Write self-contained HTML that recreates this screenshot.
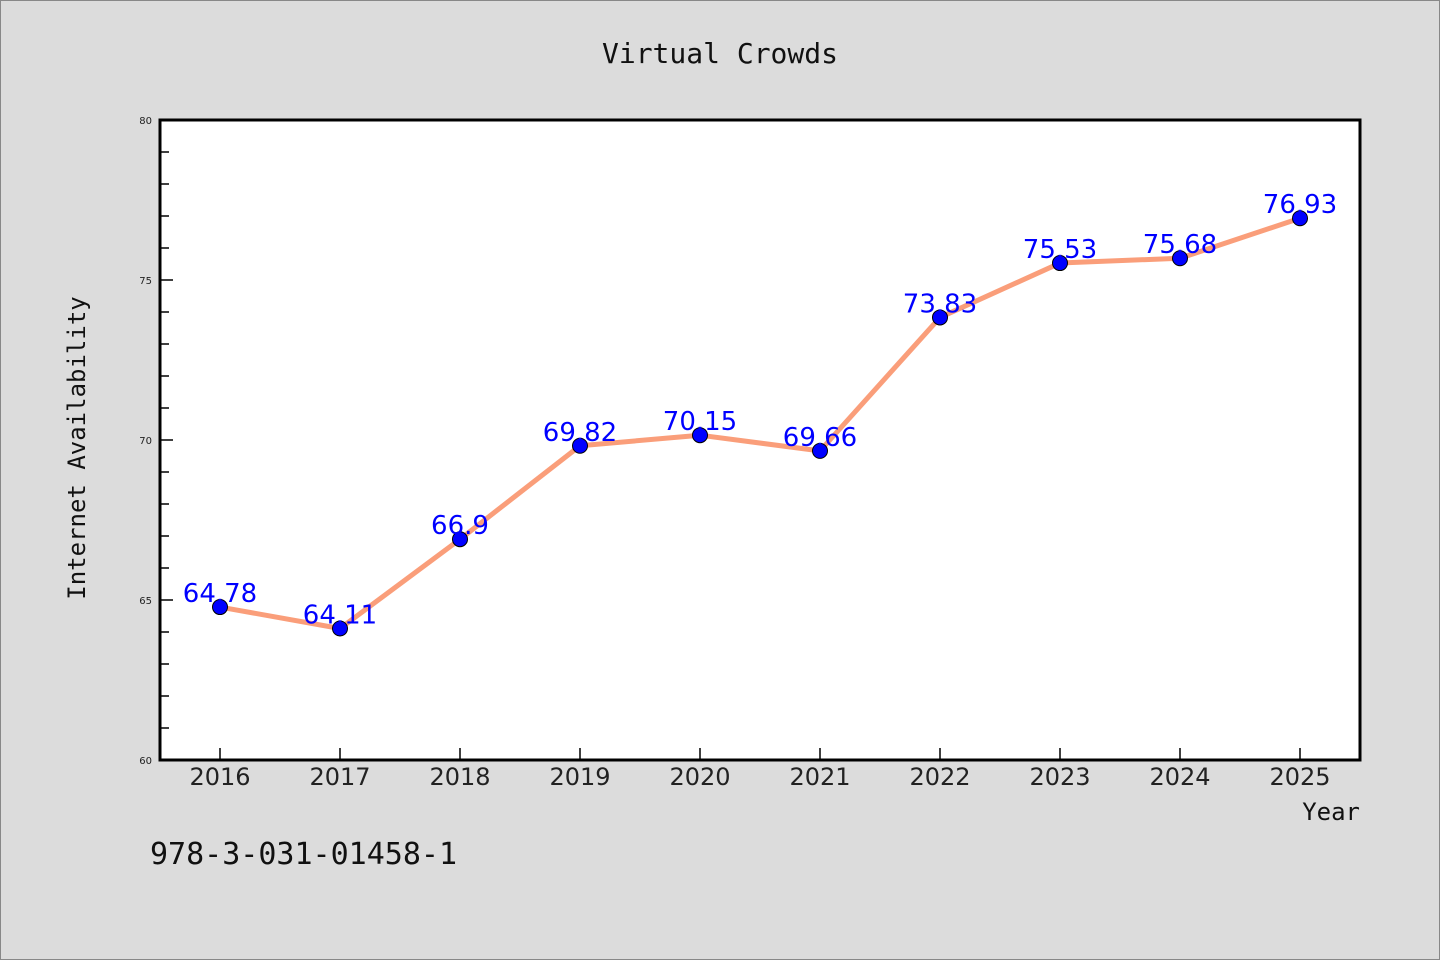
<!DOCTYPE html>
<html><head><meta charset="utf-8"><style>
html,body{margin:0;padding:0;background:#dcdcdc;}
svg{display:block;}
</style></head><body>
<svg width="1440" height="960" xmlns="http://www.w3.org/2000/svg">
<rect x="0.5" y="0.5" width="1439" height="959" fill="#dcdcdc" stroke="#888"/>
<text x="720" y="63" text-anchor="middle" font-family="'DejaVu Sans Mono','Liberation Mono',monospace" font-size="28" fill="#111">Virtual Crowds</text>
<rect x="160" y="120" width="1200" height="640" fill="#fff" stroke="#000" stroke-width="3"/>
<g id="yaxis"></g>
<g id="xaxis"></g>
<g id="series"></g>
<text transform="translate(85,448) rotate(-90)" text-anchor="middle" font-family="'DejaVu Sans Mono','Liberation Mono',monospace" font-size="24" fill="#111">Internet Availability</text>
<text x="1360" y="820" text-anchor="end" font-family="'DejaVu Sans Mono','Liberation Mono',monospace" font-size="24" fill="#111">Year</text>
<text x="150" y="864" font-family="'DejaVu Sans Mono','Liberation Mono',monospace" font-size="30" fill="#111">978-3-031-01458-1</text>
</svg>
<script>
const categories = ["2016","2017","2018","2019","2020","2021","2022","2023","2024","2025"];
const values = [64.78,64.11,66.9,69.82,70.15,69.66,73.83,75.53,75.68,76.93];
const valueLabels = ["64.78","64.11","66.9","69.82","70.15","69.66","73.83","75.53","75.68","76.93"];
const yTicks = [60,65,70,75,80];
const yMin = 60, yMax = 80;
const NS = "http://www.w3.org/2000/svg";
function xs(i){ return 160 + 1200*(i+0.5)/categories.length; }
function ys(v){ return 760 - 640*(v-yMin)/(yMax-yMin); }
function mk(tag, attrs, parent){ const e=document.createElementNS(NS,tag); for(const k in attrs) e.setAttribute(k,attrs[k]); parent.appendChild(e); return e; }
const ya=document.getElementById('yaxis'), xa=document.getElementById('xaxis'), se=document.getElementById('series');
for(let v=yMin; v<=yMax; v++){
  const major = yTicks.includes(v);
  const t = mk('line',{x1:160,x2:major?173:169,y1:ys(v),y2:ys(v),stroke:'#000','stroke-width':1.5},ya);
  
  
}
yTicks.forEach(v=>{
  const t = mk('text',{x:152,y:ys(v)+4,'text-anchor':'end','font-family':"'DejaVu Sans',sans-serif",'font-size':10,fill:'#222'},ya);
  t.textContent=v;
  
  
});
categories.forEach((c,i)=>{
  const t = mk('line',{x1:xs(i),x2:xs(i),y1:760,y2:748,stroke:'#000','stroke-width':1.5},xa);
  
  
  const l = mk('text',{x:xs(i),y:785,'text-anchor':'middle','font-family':"'DejaVu Sans',sans-serif",'font-size':24,fill:'#222'},xa);
  l.textContent=c;
  
  
});
const line = mk('polyline',{points:values.map((v,i)=>xs(i)+','+ys(v)).join(' '),fill:'none',stroke:'#fa9e7a','stroke-width':5,'stroke-linejoin':'round'},se);


values.forEach((v,i)=>{
  const p = mk('circle',{cx:xs(i),cy:ys(v),r:7.5,fill:'#0000ff',stroke:'#000','stroke-width':1},se);
  
  
});
values.forEach((v,i)=>{
  const t = mk('text',{x:xs(i),y:ys(v)-5,'text-anchor':'middle','font-family':"'DejaVu Sans',sans-serif",'font-size':26,fill:'#0000ff'},se);
  t.textContent=valueLabels[i];
  
  
});
</script>
</body></html>
